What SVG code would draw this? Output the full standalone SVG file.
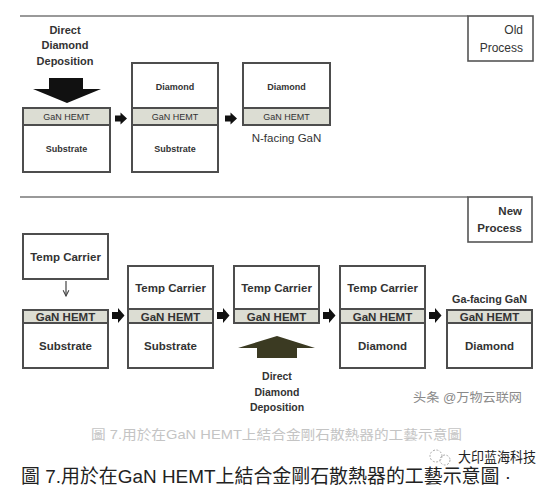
<svg xmlns="http://www.w3.org/2000/svg" width="553" height="486" viewBox="0 0 553 486">
<defs>
<style>
.bg{fill:#fff}
.box{fill:#fff;stroke:#4d4d4d;stroke-width:2}
.band{fill:#dcddd3;stroke:#4d4d4d;stroke-width:2}
.frame{fill:#fff;stroke:#555;stroke-width:1.6}
.rule{stroke:#777;stroke-width:1.6}
.t{font-family:"Liberation Sans",Arial,sans-serif;fill:#333;text-anchor:middle}
.os{font-size:9px}
.ob{font-size:9px;font-weight:bold}
.nb{font-size:11.5px;font-weight:bold}
.lb{font-size:11px;font-weight:bold}
.blk{fill:#111}
.olv{fill:#3b3a22}
.cjk{font-family:"Liberation Sans","Noto Sans CJK TC","Noto Sans CJK SC",sans-serif}
</style>
<marker id="ah" viewBox="0 0 10 10" refX="9" refY="5" markerWidth="6" markerHeight="6" orient="auto">
<path d="M1,1 L9,5 L1,9" fill="none" stroke="#444" stroke-width="1.5"/>
</marker>
</defs>
<rect class="bg" x="0" y="0" width="553" height="486"/>

<!-- Old process header -->
<g id="old-header">
<line class="rule" x1="20" y1="16" x2="468" y2="16"/>
<rect class="frame" x="468" y="16" width="65" height="45"/>
<text class="t" x="523" y="34" style="font-size:12px;text-anchor:end">Old</text>
<text class="t" x="523" y="52" style="font-size:12px;text-anchor:end">Process</text>
</g>

<g id="old-deposition">
<text class="t lb" x="65" y="34">Direct</text>
<text class="t lb" x="65" y="49">Diamond</text>
<text class="t lb" x="65" y="65">Deposition</text>
<polygon class="blk" points="49,78 83,78 83,89 101,89 67,103 33,89 49,89"/>
</g>

<g id="old-box1">
<rect class="box" x="23" y="108" width="87" height="64"/>
<rect class="band" x="23" y="108" width="87" height="17"/>
<text class="t os" x="66.5" y="120">GaN HEMT</text>
<text class="t ob" x="66.5" y="152">Substrate</text>
</g>

<g id="old-box2">
<rect class="box" x="132" y="63" width="86" height="109"/>
<rect class="band" x="132" y="108" width="86" height="17"/>
<text class="t ob" x="175" y="90">Diamond</text>
<text class="t os" x="175" y="120">GaN HEMT</text>
<text class="t ob" x="175" y="152">Substrate</text>
</g>

<g id="old-box3">
<rect class="box" x="243" y="63" width="87" height="62"/>
<rect class="band" x="243" y="108" width="87" height="17"/>
<text class="t ob" x="286.5" y="90">Diamond</text>
<text class="t os" x="286.5" y="120">GaN HEMT</text>
<text class="t" x="286.5" y="142" style="font-size:11.5px">N-facing GaN</text>
</g>

<!-- New process header -->
<g id="new-header">
<line class="rule" x1="20" y1="197" x2="468" y2="197"/>
<rect class="frame" x="468" y="197" width="64" height="45"/>
<text class="t" x="522" y="215" style="font-size:11.5px;font-weight:bold;text-anchor:end">New</text>
<text class="t" x="522" y="232" style="font-size:11.5px;font-weight:bold;text-anchor:end">Process</text>
</g>

<g id="new-carrier">
<rect class="box" x="23" y="234" width="85" height="45"/>
<text class="t nb" x="65.5" y="261">Temp Carrier</text>
</g>

<g id="new-box1">
<rect class="box" x="23" y="310" width="85" height="58"/>
<rect class="band" x="23" y="310" width="85" height="13"/>
<text class="t nb" x="65.5" y="321">GaN HEMT</text>
<text class="t nb" x="65.5" y="350">Substrate</text>
</g>

<g id="new-box2">
<rect class="box" x="128" y="266" width="85" height="102"/>
<rect class="band" x="128" y="309" width="85" height="14"/>
<text class="t nb" x="170.5" y="292">Temp Carrier</text>
<text class="t nb" x="170.5" y="320.5">GaN HEMT</text>
<text class="t nb" x="170.5" y="350">Substrate</text>
</g>

<g id="new-box3">
<rect class="box" x="234" y="266" width="85" height="57"/>
<rect class="band" x="234" y="309" width="85" height="14"/>
<text class="t nb" x="276.5" y="292">Temp Carrier</text>
<text class="t nb" x="276.5" y="320.5">GaN HEMT</text>
</g>

<g id="new-deposition">
<polygon class="olv" points="277,336 315,348 297,348 297,358 257,358 257,348 238,348"/>
<text class="t" x="277" y="380" style="font-size:10.5px;font-weight:bold">Direct</text>
<text class="t" x="277" y="396" style="font-size:10.5px;font-weight:bold">Diamond</text>
<text class="t" x="277" y="411" style="font-size:10.5px;font-weight:bold">Deposition</text>
</g>

<g id="new-box4">
<rect class="box" x="340" y="266" width="85" height="102"/>
<rect class="band" x="340" y="309" width="85" height="14"/>
<text class="t nb" x="382.5" y="292">Temp Carrier</text>
<text class="t nb" x="382.5" y="320.5">GaN HEMT</text>
<text class="t nb" x="382.5" y="350">Diamond</text>
</g>

<g id="new-box5">
<rect class="box" x="447" y="310" width="85" height="58"/>
<rect class="band" x="447" y="310" width="85" height="13"/>
<text class="t" x="489.5" y="303" style="font-size:10.8px;font-weight:bold">Ga-facing GaN</text>
<text class="t nb" x="489.5" y="321">GaN HEMT</text>
<text class="t nb" x="489.5" y="350">Diamond</text>
</g>

<!-- connectors -->
<g id="connectors">
<polygon class="blk" points="115,115.5 120.5,115.5 120.5,112.5 127,118.5 120.5,124.5 120.5,121.5 115,121.5"/>
<polygon class="blk" points="225,115.5 230.5,115.5 230.5,112.5 237,118.5 230.5,124.5 230.5,121.5 225,121.5"/>
<line x1="66" y1="281" x2="66" y2="296" stroke="#444" stroke-width="1.2" marker-end="url(#ah)"/>
<polygon class="blk" points="112,312 118,312 118,308 124.5,315.5 118,323 118,319 112,319"/>
<polygon class="blk" points="217,312 223,312 223,308 229.5,315.5 223,323 223,319 217,319"/>
<polygon class="blk" points="323,312 329,312 329,308 335.5,315.5 329,323 329,319 323,319"/>
<polygon class="blk" points="429,312 435,312 435,308 441.5,315.5 435,323 435,319 429,319"/>
</g>

<!-- captions -->
<text class="cjk" x="413" y="402" style="font-size:12.5px;fill:#8a8a8a" textLength="109" lengthAdjust="spacingAndGlyphs">头条 @万物云联网</text>
<text class="cjk" x="91" y="439" style="font-size:13px;fill:#c4c4c4" textLength="371" lengthAdjust="spacingAndGlyphs">圖 7.用於在GaN HEMT上結合金剛石散熱器的工藝示意圖</text>
<g id="wechat">
<circle cx="436" cy="456" r="6" fill="none" stroke="#aaa" stroke-width="1" stroke-dasharray="2 1.5"/>
<circle cx="445" cy="460" r="5" fill="none" stroke="#aaa" stroke-width="1" stroke-dasharray="2 1.5"/>
<text class="cjk" x="458" y="462" style="font-size:13.5px;fill:#222" textLength="78" lengthAdjust="spacingAndGlyphs">大印蓝海科技</text>
</g>
<text class="cjk" x="21" y="482.5" style="font-size:19px;fill:#222" textLength="490" lengthAdjust="spacingAndGlyphs">圖 7.用於在GaN HEMT上結合金剛石散熱器的工藝示意圖 ·</text>
</svg>
